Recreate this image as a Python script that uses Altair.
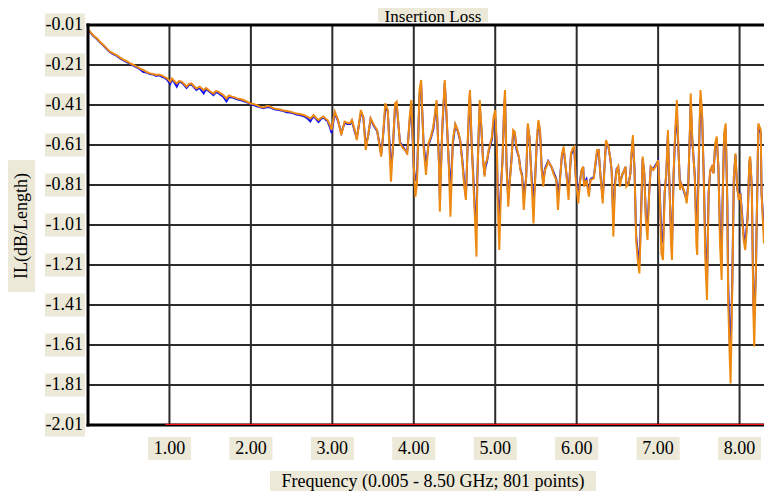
import altair as alt
import pandas as pd

# ---------------- data ----------------
freq = [
    0.005, 0.025, 0.06, 0.11, 0.15, 0.19, 0.23, 0.27, 0.31, 0.35,
    0.39, 0.43, 0.47, 0.52, 0.56, 0.60, 0.64, 0.68, 0.72, 0.76,
    0.80, 0.84, 0.87, 0.905, 0.94, 0.97, 1.01, 1.03, 1.06, 1.09,
    1.12, 1.15, 1.18, 1.21, 1.24, 1.27, 1.30, 1.33, 1.37, 1.42,
    1.45, 1.48, 1.51, 1.54, 1.57, 1.60, 1.63, 1.66, 1.70, 1.73,
    1.77, 1.80, 1.83, 1.87, 1.91, 1.95, 1.99, 2.03, 2.07, 2.11,
    2.15, 2.20, 2.24, 2.28, 2.32, 2.36, 2.40, 2.44, 2.48, 2.52,
    2.56, 2.60, 2.65, 2.69, 2.73, 2.75, 2.77, 2.80, 2.83, 2.86,
    2.89, 2.92, 2.94, 2.97, 2.99, 3.03, 3.07, 3.11, 3.15, 3.19,
    3.22, 3.24, 3.28, 3.30, 3.35, 3.38, 3.41, 3.44, 3.47, 3.51,
    3.55, 3.60, 3.62, 3.65, 3.68, 3.72, 3.74, 3.77, 3.79, 3.83,
    3.87, 3.91, 3.92, 3.95, 3.97, 4.00, 4.02, 4.04, 4.07, 4.09,
    4.12, 4.15, 4.18, 4.21, 4.24, 4.28, 4.31, 4.32, 4.35, 4.38,
    4.40, 4.43, 4.45, 4.48, 4.51, 4.54, 4.57, 4.60, 4.62, 4.64,
    4.66, 4.68, 4.69, 4.71, 4.73, 4.75, 4.77, 4.78, 4.80, 4.81,
    4.83, 4.85, 4.87, 4.88, 4.90, 4.92, 4.96, 4.98, 5.00, 5.02,
    5.03, 5.05, 5.07, 5.09, 5.11, 5.12, 5.14, 5.16, 5.18, 5.20,
    5.22, 5.24, 5.26, 5.29, 5.31, 5.33, 5.35, 5.38, 5.40, 5.42,
    5.44, 5.47, 5.49, 5.51, 5.53, 5.55, 5.57, 5.59, 5.61, 5.63,
    5.65, 5.69, 5.72, 5.75, 5.77, 5.79, 5.82, 5.84, 5.87, 5.90,
    5.93, 5.95, 5.97, 5.99, 6.02, 6.04, 6.06, 6.08, 6.09, 6.12,
    6.15, 6.17, 6.21, 6.23, 6.25, 6.27, 6.29, 6.32, 6.34, 6.36,
    6.39, 6.41, 6.43, 6.45, 6.47, 6.49, 6.51, 6.53, 6.56, 6.57,
    6.60, 6.61, 6.64, 6.66, 6.67, 6.69, 6.71, 6.73, 6.75, 6.77,
    6.79, 6.81, 6.83, 6.85, 6.87, 6.89, 6.91, 6.94, 6.97, 7.00,
    7.02, 7.04, 7.06, 7.08, 7.10, 7.12, 7.14, 7.16, 7.17, 7.19,
    7.21, 7.23, 7.25, 7.27, 7.28, 7.30, 7.33, 7.35, 7.37, 7.39,
    7.40, 7.42, 7.45, 7.47, 7.48, 7.50, 7.52, 7.54, 7.56, 7.58,
    7.60, 7.62, 7.64, 7.66, 7.68, 7.70, 7.72, 7.74, 7.76, 7.78,
    7.79, 7.81, 7.83, 7.85, 7.86, 7.88, 7.89, 7.91, 7.93, 7.95,
    7.97, 7.99, 8.01, 8.03, 8.05, 8.07, 8.10, 8.12, 8.13, 8.15,
    8.17, 8.18, 8.20, 8.22, 8.23, 8.26, 8.27, 8.30, 8.32, 8.34,
    8.36, 8.38, 8.40, 8.42,
]

il_orange = [
    -0.035, -0.043, -0.06, -0.077, -0.095, -0.11, -0.127, -0.143, -0.152, -0.16,
    -0.172, -0.182, -0.19, -0.202, -0.21, -0.218, -0.228, -0.235, -0.245, -0.252,
    -0.255, -0.26, -0.258, -0.262, -0.27, -0.277, -0.293, -0.277, -0.29, -0.302,
    -0.29, -0.293, -0.305, -0.318, -0.305, -0.302, -0.315, -0.327, -0.318, -0.335,
    -0.325, -0.335, -0.345, -0.352, -0.340, -0.343, -0.352, -0.36, -0.377, -0.362,
    -0.368, -0.372, -0.377, -0.38, -0.385, -0.393, -0.402, -0.405, -0.41, -0.418,
    -0.422, -0.415, -0.418, -0.427, -0.43, -0.433, -0.437, -0.44, -0.443, -0.448,
    -0.453, -0.455, -0.46, -0.468, -0.477, -0.47, -0.46, -0.475, -0.485, -0.475,
    -0.468, -0.48, -0.485, -0.51, -0.535, -0.443, -0.485, -0.56, -0.493, -0.50,
    -0.50, -0.485, -0.543, -0.585, -0.435, -0.468, -0.635, -0.56, -0.477, -0.51,
    -0.535, -0.668, -0.577, -0.402, -0.435, -0.793, -0.652, -0.402, -0.393, -0.602,
    -0.627, -0.643, -0.66, -0.468, -0.385, -0.718, -0.868, -0.80, -0.335, -0.285,
    -0.618, -0.76, -0.602, -0.568, -0.518, -0.385, -0.718, -0.943, -0.518, -0.285,
    -0.435, -0.71, -0.968, -0.585, -0.505, -0.535, -0.585, -0.718, -0.818, -0.885,
    -0.618, -0.385, -0.335, -0.602, -0.785, -0.968, -1.168, -0.785, -0.502, -0.385,
    -0.518, -0.685, -0.768, -0.702, -0.685, -0.635, -0.568, -0.468, -0.435, -0.618,
    -0.885, -1.135, -0.835, -0.685, -0.402, -0.335, -0.735, -0.918, -0.785, -0.685,
    -0.535, -0.543, -0.618, -0.668, -0.735, -0.768, -0.935, -0.768, -0.502, -0.568,
    -0.735, -1.002, -0.785, -0.585, -0.485, -0.535, -0.735, -0.818, -0.735, -0.718,
    -0.693, -0.718, -0.76, -0.785, -0.935, -0.818, -0.652, -0.618, -0.735, -0.885,
    -0.652, -0.627, -0.618, -0.785, -0.902, -0.80, -0.735, -0.718, -0.818, -0.785,
    -0.868, -0.785, -0.777, -0.702, -0.635, -0.635, -0.752, -0.902, -0.735, -0.585,
    -0.618, -0.668, -0.735, -1.068, -0.818, -0.735, -0.718, -0.818, -0.752, -0.752,
    -0.718, -0.818, -0.802, -0.752, -0.668, -0.56, -0.735, -1.085, -1.185, -1.252,
    -0.985, -0.668, -0.752, -0.985, -1.085, -0.852, -0.718, -0.735, -0.718, -0.685,
    -0.852, -1.152, -1.185, -0.852, -0.752, -0.535, -0.818, -1.118, -1.185, -0.752,
    -0.535, -0.385, -0.635, -0.835, -0.802, -0.818, -0.852, -0.902, -0.818, -0.535,
    -0.352, -0.585, -0.768, -1.11, -1.16, -0.66, -0.335, -0.452, -0.768, -1.185,
    -1.385, -0.852, -0.735, -0.718, -0.752, -0.602, -0.568, -0.718, -1.102, -1.285,
    -0.935, -0.552, -0.502, -0.935, -1.385, -1.685, -1.802, -1.335, -0.768, -0.652,
    -0.818, -0.885, -0.852, -0.968, -1.085, -1.135, -0.968, -0.685, -0.668, -0.818,
    -1.452, -1.618, -1.252, -0.768, -0.502, -0.535, -0.852, -1.102, -0.918, -0.802,
    -0.768, -0.885, -0.918, -0.88,
]

il_blue = [
    -0.035, -0.045, -0.063, -0.080, -0.098, -0.113, -0.130, -0.146, -0.156, -0.163,
    -0.176, -0.185, -0.194, -0.204, -0.214, -0.222, -0.232, -0.245, -0.248, -0.255,
    -0.258, -0.265, -0.262, -0.268, -0.274, -0.283, -0.305, -0.283, -0.297, -0.318,
    -0.293, -0.298, -0.31, -0.325, -0.31, -0.308, -0.32, -0.335, -0.325, -0.352,
    -0.33, -0.34, -0.35, -0.36, -0.345, -0.35, -0.36, -0.368, -0.392, -0.37,
    -0.372, -0.376, -0.381, -0.385, -0.39, -0.396, -0.404, -0.41, -0.416, -0.42,
    -0.426, -0.42, -0.422, -0.43, -0.434, -0.436, -0.44, -0.446, -0.448, -0.452,
    -0.458, -0.46, -0.466, -0.475, -0.492, -0.478, -0.466, -0.48, -0.495, -0.48,
    -0.472, -0.485, -0.49, -0.52, -0.55, -0.45, -0.49, -0.55, -0.5, -0.505,
    -0.505, -0.49, -0.55, -0.575, -0.45, -0.47, -0.61, -0.565, -0.48, -0.515,
    -0.54, -0.655, -0.58, -0.425, -0.44, -0.72, -0.65, -0.42, -0.41, -0.595,
    -0.62, -0.645, -0.64, -0.49, -0.42, -0.72, -0.79, -0.76, -0.36, -0.31,
    -0.6, -0.72, -0.61, -0.575, -0.53, -0.4, -0.7, -0.88, -0.53, -0.3,
    -0.45, -0.7, -0.84, -0.6, -0.51, -0.54, -0.59, -0.7, -0.8, -0.87,
    -0.63, -0.43, -0.36, -0.6, -0.76, -0.93, -1.03, -0.78, -0.51, -0.42,
    -0.53, -0.68, -0.76, -0.72, -0.69, -0.64, -0.58, -0.49, -0.47, -0.62,
    -0.86, -0.97, -0.82, -0.68, -0.42, -0.37, -0.72, -0.88, -0.78, -0.68,
    -0.55, -0.55, -0.63, -0.67, -0.73, -0.76, -0.88, -0.77, -0.52, -0.57,
    -0.73, -0.9, -0.78, -0.6, -0.5, -0.54, -0.72, -0.8, -0.73, -0.71,
    -0.69, -0.72, -0.75, -0.78, -0.87, -0.8, -0.66, -0.63, -0.74, -0.85,
    -0.66, -0.64, -0.63, -0.77, -0.87, -0.79, -0.74, -0.72, -0.8, -0.78,
    -0.85, -0.78, -0.77, -0.71, -0.65, -0.64, -0.75, -0.88, -0.73, -0.6,
    -0.62, -0.67, -0.74, -0.99, -0.8, -0.73, -0.72, -0.8, -0.76, -0.75,
    -0.72, -0.8, -0.8, -0.75, -0.68, -0.58, -0.73, -1.06, -1.15, -1.2,
    -0.96, -0.68, -0.75, -0.97, -1.02, -0.85, -0.72, -0.73, -0.71, -0.69,
    -0.84, -1.07, -1.1, -0.85, -0.76, -0.56, -0.82, -1.08, -1.12, -0.76,
    -0.56, -0.45, -0.64, -0.82, -0.8, -0.82, -0.86, -0.88, -0.81, -0.55,
    -0.4, -0.59, -0.76, -1.02, -1.05, -0.67, -0.38, -0.47, -0.76, -1.12,
    -1.3, -0.85, -0.74, -0.72, -0.75, -0.62, -0.58, -0.72, -1.05, -1.2,
    -0.92, -0.57, -0.53, -0.9, -1.3, -1.6, -1.64, -1.3, -0.77, -0.66,
    -0.82, -0.87, -0.85, -0.95, -1.06, -1.1, -0.96, -0.7, -0.68, -0.82,
    -1.4, -1.48, -1.25, -0.78, -0.52, -0.55, -0.85, -1.05, -0.9, -0.8,
    -0.77, -0.87, -0.9, -0.88,
]

limit_freq = [0.95, 8.42]
limit_val = [-2.01, -2.01]

y_ticks = [-0.01, -0.21, -0.41, -0.61, -0.81, -1.01, -1.21, -1.41, -1.61, -1.81, -2.01]
x_ticks = [1.0, 2.0, 3.0, 4.0, 5.0, 6.0, 7.0, 8.0]

chart_title = "Insertion Loss"
x_title = "Frequency (0.005 - 8.50 GHz; 801 points)"
y_title = "IL(dB/Length)"

assert len(freq) == len(il_orange) == len(il_blue)

# ---------------- layout / style ----------------
W, H = 676, 400
XMAX = 8.3
FONT = "Liberation Serif"
FS = 18
BOX = "#ECE9D8"
GRID = "#2b2b2b"

xs = alt.Scale(domain=[0, XMAX], nice=False, zero=False)
ys = alt.Scale(domain=[-2.01, -0.01], nice=False, zero=False)


def X(field):
    return alt.X(field, type="quantitative", scale=xs, axis=None)


def Y(field):
    return alt.Y(field, type="quantitative", scale=ys, axis=None)


df_o = pd.DataFrame({"f": freq, "v": il_orange})
df_b = pd.DataFrame({"f": freq, "v": il_blue})
df_lim = pd.DataFrame({"f": limit_freq, "v": limit_val})

df_y = pd.DataFrame({"v": y_ticks})
df_y["lab"] = [f"{v:.2f}" for v in y_ticks]
half_h = 11.5 * (2.0 / H)
df_y["hi"] = df_y["v"] + half_h
df_y["lo"] = df_y["v"] - half_h

df_x = pd.DataFrame({"f": x_ticks})
df_x["lab"] = [f"{f:.2f}" for f in x_ticks]
half_w = 21.5 * (XMAX / W)
df_x["lo"] = df_x["f"] - half_w
df_x["hi"] = df_x["f"] + half_w

one = pd.DataFrame({"t": [chart_title], "xt": [x_title], "yt": [y_title]})

hgrid = alt.Chart(df_y.iloc[1:-1]).mark_rule(color=GRID, strokeWidth=2).encode(
    y=Y("v"), x=alt.value(0), x2=alt.value(W))
vgrid = alt.Chart(df_x).mark_rule(color=GRID, strokeWidth=2).encode(
    x=X("f"), y=alt.value(0), y2=alt.value(H))

blue = alt.Chart(df_b).mark_line(color="#1414F0", strokeWidth=2, clip=True).encode(
    x=X("f"), y=Y("v"))
orange = alt.Chart(df_o).mark_line(color="#EE8A12", strokeWidth=2, clip=True).encode(
    x=X("f"), y=Y("v"))

top_border = alt.Chart(df_y.iloc[:1]).mark_rule(color="black", strokeWidth=3).encode(
    y=Y("v"), x=alt.value(-1.5), x2=alt.value(W))
bottom_border = alt.Chart(df_y.iloc[-1:]).mark_rule(color="black", strokeWidth=3).encode(
    y=Y("v"), x=alt.value(-1.5), x2=alt.value(W))
left_border = alt.Chart(df_y.iloc[:1]).mark_rule(color="black", strokeWidth=3).encode(
    x=alt.value(0), y=alt.value(-1.5), y2=alt.value(H + 1.5))
limit = alt.Chart(df_lim).mark_line(color="#FF1010", strokeWidth=2.5, clip=True).encode(
    x=X("f"), y=Y("v"))

ybox = alt.Chart(df_y).mark_rect(color=BOX).encode(
    y=Y("hi"), y2="lo", x=alt.value(-43), x2=alt.value(-3))
ylab = alt.Chart(df_y).mark_text(align="right", baseline="middle", font=FONT,
                                 fontSize=FS, color="black").encode(
    y=Y("v"), x=alt.value(-5), text="lab:N")

xbox = alt.Chart(df_x).mark_rect(color=BOX).encode(
    x=X("lo"), x2="hi", y=alt.value(412), y2=alt.value(435))
xlab = alt.Chart(df_x).mark_text(align="center", baseline="middle", font=FONT,
                                 fontSize=FS, color="black").encode(
    x=X("f"), y=alt.value(424), text="lab:N")

tbox = alt.Chart(one).mark_rect(color=BOX).encode(
    x=alt.value(290), x2=alt.value(400), y=alt.value(-17), y2=alt.value(-3))
ttext = alt.Chart(one).mark_text(align="center", baseline="middle", font=FONT,
                                 fontSize=17, color="black").encode(
    x=alt.value(345), y=alt.value(-8), text="t:N")

xtbox = alt.Chart(one).mark_rect(color=BOX).encode(
    x=alt.value(182), x2=alt.value(508), y=alt.value(446), y2=alt.value(470))
xttext = alt.Chart(one).mark_text(align="center", baseline="middle", font=FONT,
                                  fontSize=FS, color="black").encode(
    x=alt.value(345), y=alt.value(457), text="xt:N")

ytbox = alt.Chart(one).mark_rect(color=BOX).encode(
    x=alt.value(-80), x2=alt.value(-53), y=alt.value(135), y2=alt.value(267))
yttext = alt.Chart(one).mark_text(align="center", baseline="middle", font=FONT,
                                  fontSize=FS, color="black", angle=270).encode(
    x=alt.value(-66), y=alt.value(201), text="yt:N")

chart = alt.layer(
    hgrid, vgrid, blue, orange, top_border, bottom_border, left_border, limit,
    ybox, ylab, xbox, xlab, tbox, ttext, xtbox, xttext, ytbox, yttext,
).properties(
    width=W, height=H,
    autosize=alt.AutoSizeParams(type="none"),
    padding={"left": 80, "top": 17, "right": 0, "bottom": 66},
    background="white",
).configure_view(stroke=None)

chart.save("out.html", embed_options={"renderer": "svg", "actions": False})
